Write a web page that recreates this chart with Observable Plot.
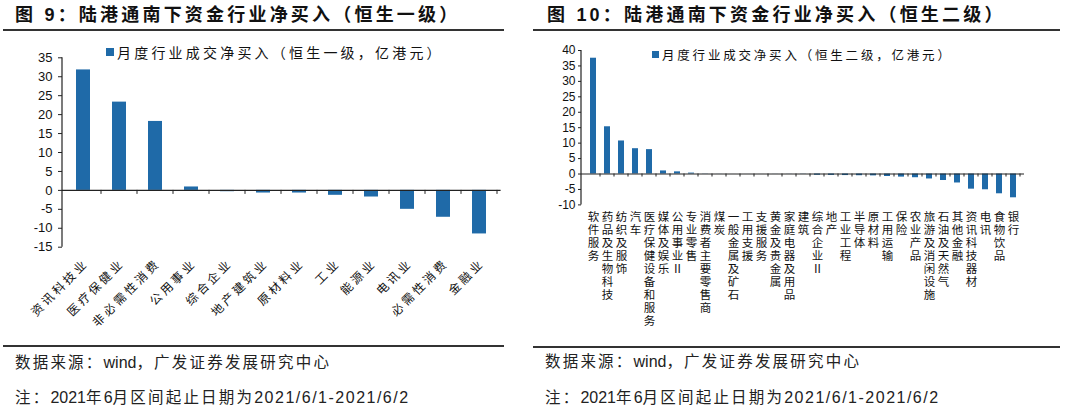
<!DOCTYPE html>
<html><head><meta charset="utf-8">
<script src="https://cdn.jsdelivr.net/npm/d3@7"></script>
<script src="https://cdn.jsdelivr.net/npm/@observablehq/plot@0.6"></script>
<style>
body{margin:0;width:1080px;height:417px;background:#fff;position:relative;overflow:hidden;font-family:"Liberation Sans","Noto Sans CJK SC",sans-serif;color:#111;}
.abs{position:absolute;white-space:nowrap;}
.title{font-weight:bold;font-size:18px;line-height:18px;letter-spacing:3.2px;color:#111;}
.rule{height:1.6px;background:#333;}
.src{font-size:16px;line-height:16px;color:#222;}
.cj{letter-spacing:2.2px;font-size:15.5px;}
.dt{letter-spacing:1.5px;}
.legend{font-family:"Noto Sans CJK SC",sans-serif;color:#111;display:flex;align-items:center;}
.legend .sw{display:inline-block;background:#1f6aa8;margin-right:3px;}
.c1 g[aria-label="x-axis tick label"] text{letter-spacing:3px;}
</style>
</head><body>
<div class="abs title" style="left:15px;top:6px;">图 9<span>：</span>陆港通南下资金行业净买入（恒生一级）</div>
<div class="abs rule" style="left:3px;top:29px;width:501px;"></div>
<div class="abs title" style="left:547px;top:6px;">图 10<span>：</span>陆港通南下资金行业净买入（恒生二级）</div>
<div class="abs rule" style="left:533px;top:29px;width:527px;"></div>

<div id="c1" class="abs c1" style="left:0;top:40px;"></div>
<div id="c2" class="abs c2" style="left:540px;top:40px;"></div>

<div class="abs legend" style="left:106px;top:42px;font-size:14px;letter-spacing:3.2px;"><span class="sw" style="width:8px;height:8px;"></span>月度行业成交净买入（恒生一级，亿港元）</div>
<div class="abs legend" style="left:652px;top:45px;font-size:12.5px;letter-spacing:2.8px;"><span class="sw" style="width:7px;height:7px;"></span>月度行业成交净买入（恒生二级，亿港元）</div>

<div class="abs rule" style="left:3px;top:345px;width:501px;"></div>
<div class="abs rule" style="left:533px;top:346px;width:527px;"></div>

<div class="abs src" style="left:15px;top:355px;"><span class="cj">数据来源：</span>wind<span class="cj">，广发证券发展研究中心</span></div>
<div class="abs src" style="left:15px;top:390px;"><span class="cj">注：</span>2021<span class="cj">年</span>6<span class="cj">月区间起止日期为</span><span class="dt">2021/6/1-2021/6/2</span></div>
<div class="abs src" style="left:545px;top:354px;"><span class="cj">数据来源：</span>wind<span class="cj">，广发证券发展研究中心</span></div>
<div class="abs src" style="left:545px;top:390px;"><span class="cj">注：</span>2021<span class="cj">年</span>6<span class="cj">月区间起止日期为</span><span class="dt">2021/6/1-2021/6/2</span></div>

<script>
// ---- Data: 恒生一级 ----
const categories1 = ["资讯科技业","医疗保健业","非必需性消费","公用事业","综合企业","地产建筑业","原材料业","工业","能源业","电讯业","必需性消费","金融业"];
const values1 = [31.8, 23.3, 18.2, 0.9, -0.35, -0.7, -0.7, -1.3, -1.75, -5.0, -7.1, -11.5];
const yTicks1 = [-15, -10, -5, 0, 5, 10, 15, 20, 25, 30, 35];

// ---- Data: 恒生二级 ----
const categories2 = ["软件服务","药品及生物科技","纺织及服饰","汽车","医疗保健设备和服务","媒体及娱乐","公用事业Ⅱ","专业零售","消费者主要零售商","煤炭","一般金属及矿石","工用支援","支援服务","黄金及贵金属","家庭电器及用品","建筑","综合企业Ⅱ","地产","工业工程","半导体","原材料","工用运输","保险","农业产品","旅游及消闲设施","石油及天然气","其他金融","资讯科技器材","电讯","食物饮品","银行"];
const values2 = [37.5, 15.3, 10.7, 8.2, 7.9, 1.0, 0.7, 0.3, 0.05, 0.02, 0.01, 0.01, -0.01, -0.02, -0.03, -0.05, -0.4, -0.45, -0.5, -0.55, -0.6, -0.8, -1.0, -1.2, -1.6, -2.1, -2.9, -4.9, -5.1, -6.4, -7.7];
const yTicks2 = [-10, -5, 0, 5, 10, 15, 20, 25, 30, 35, 40];

const BAR = "#1f6aa8";
const AXIS = "#222";

function decorate(chart, tickLen) {
  const sx = chart.scale("x"), sy = chart.scale("y");
  const svg = d3.select(chart);
  const x0 = sx.range[0];
  const y0 = sy.apply(0);
  svg.append("line").attr("x1", x0).attr("x2", x0)
    .attr("y1", sy.range[0]).attr("y2", sy.range[1])
    .attr("stroke", AXIS).attr("stroke-width", 1.2);
  const gap = (sx.step - sx.bandwidth) / 2;
  sx.domain.forEach(d => {
    const b = sx.apply(d) + sx.bandwidth + gap;
    svg.append("line").attr("x1", b).attr("x2", b).attr("y1", y0).attr("y2", y0 + tickLen)
      .attr("stroke", AXIS).attr("stroke-width", 1);
  });
}

// ---- Chart 1 ----
const data1 = categories1.map((c, i) => ({cat: c, v: values1[i]}));
const chart1 = Plot.plot({
  width: 510, height: 290,
  marginLeft: 62, marginRight: 9.4, marginTop: 17.3, marginBottom: 83.3,
  style: {fontFamily: "Liberation Sans, Noto Sans CJK SC, sans-serif", fontSize: "13px", color: "#111", background: "transparent", overflow: "visible"},
  x: {domain: categories1, paddingInner: 0.6, paddingOuter: 0.3, label: null},
  y: {domain: [-15, 35], label: null},
  marks: [
    Plot.barY(data1, {x: "cat", y: "v", fill: BAR}),
    Plot.ruleY([0], {stroke: AXIS, strokeWidth: 1.2}),
    Plot.axisY({ticks: yTicks1, tickSize: 4, tickPadding: 6, tickFormat: d => String(d), fontSize: 13, stroke: AXIS, label: null}),
    Plot.axisX({tickSize: 0, tickRotate: -45, tickPadding: 14, fontSize: 12, fontFamily: "Noto Sans CJK SC", dx: 3, label: null})
  ]
});
decorate(chart1, 4);
document.getElementById("c1").appendChild(chart1);

// ---- Chart 2 ----
const data2 = categories2.map((c, i) => ({cat: c, v: values2[i]}));
const chart2 = Plot.plot({
  width: 500, height: 300,
  marginLeft: 41, marginRight: 16, marginTop: 10, marginBottom: 135.6,
  style: {fontFamily: "Liberation Sans, Noto Sans CJK SC, sans-serif", fontSize: "12px", color: "#111", background: "transparent", overflow: "visible"},
  x: {domain: categories2, paddingInner: 0.6, paddingOuter: 0.3, label: null},
  y: {domain: [-10, 40], label: null},
  marks: [
    Plot.barY(data2, {x: "cat", y: "v", fill: BAR}),
    Plot.ruleY([0], {stroke: AXIS, strokeWidth: 1.2}),
    Plot.axisY({ticks: yTicks2, tickSize: 3, tickPadding: 3, tickFormat: d => String(d), fontSize: 12, stroke: AXIS, label: null}),
    Plot.axisX({tickSize: 0, tickPadding: 7, fontSize: 11.5, lineHeight: 1.13, fontFamily: "Noto Sans CJK SC", tickFormat: d => [...d].join("\n"), label: null})
  ]
});
decorate(chart2, 3);
document.getElementById("c2").appendChild(chart2);
</script>
</body></html>
